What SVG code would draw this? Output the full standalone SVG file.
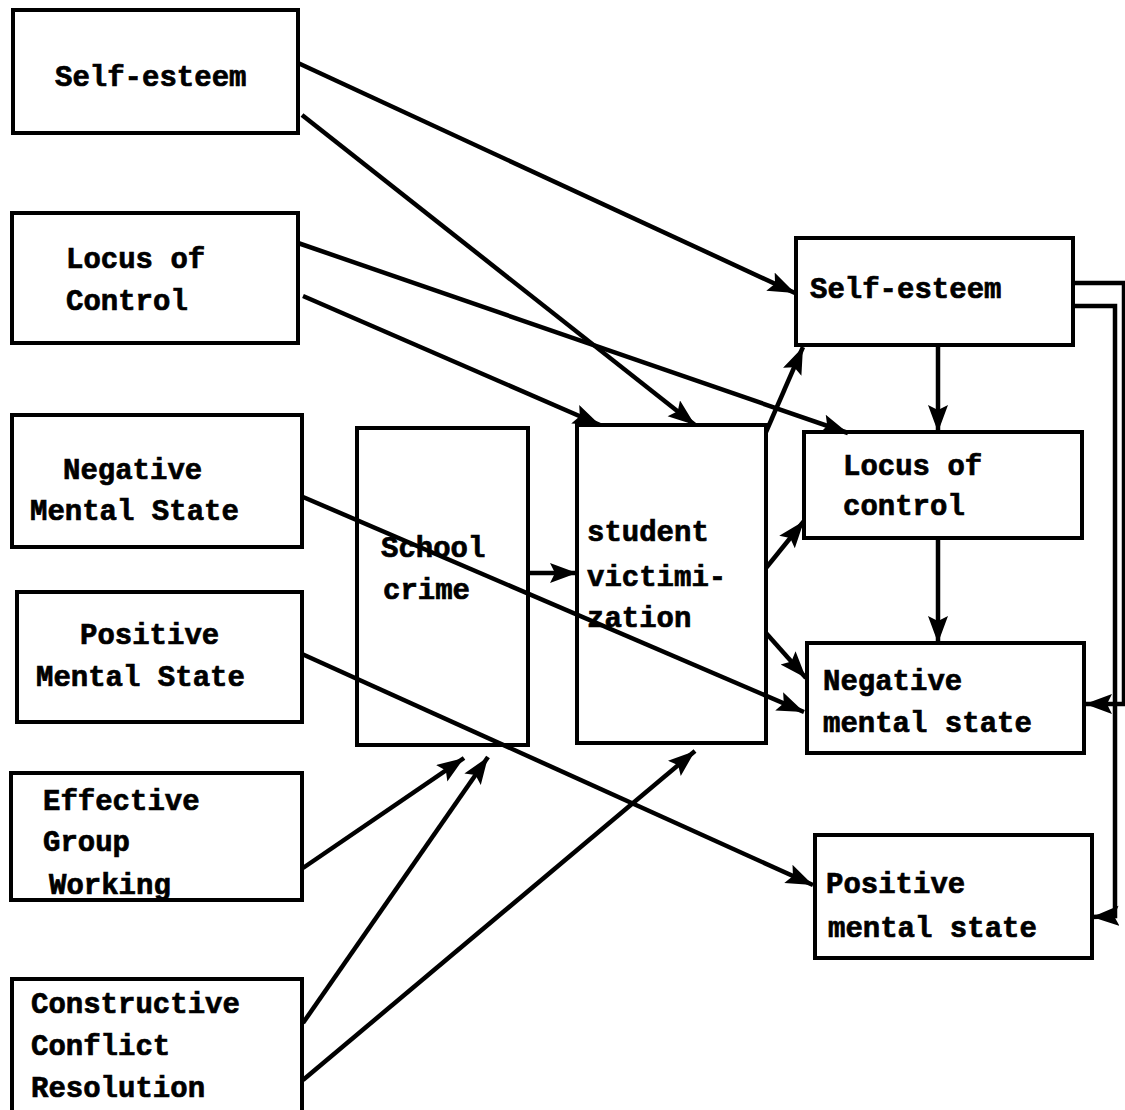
<svg xmlns="http://www.w3.org/2000/svg" width="1125" height="1110" viewBox="0 0 1125 1110">
  <style>
    .box { fill: none; stroke: #000; stroke-width: 4; }
    .lbl { font-family: "Liberation Mono", "DejaVu Sans Mono", monospace; font-weight: bold; font-size: 29px; fill: #000; stroke: #000; stroke-width: 0.7; }
    .conn { fill: none; stroke: #000; stroke-width: 4.5; stroke-linejoin: miter; }
    .arr { marker-end: url(#head); }
  </style>
  <defs>
    <marker id="head" markerUnits="userSpaceOnUse" markerWidth="30" markerHeight="22" refX="27" refY="10" orient="auto">
      <path d="M0,0 L27,10 L0,20 L5,10 Z" fill="#000"/>
    </marker>
  </defs>

  <rect width="1125" height="1110" fill="#fff"/>

  <!-- predictors -->
  <g id="n-self-esteem-in">
    <rect class="box" x="13" y="10" width="285" height="123"/>
    <text class="lbl" x="55" y="86">Self-esteem</text>
  </g>
  <g id="n-locus-in">
    <rect class="box" x="12" y="213" width="286" height="130"/>
    <text class="lbl" x="66" y="268">Locus of</text>
    <text class="lbl" x="66" y="310">Control</text>
  </g>
  <g id="n-negative-in">
    <rect class="box" x="12" y="415" width="290" height="132"/>
    <text class="lbl" x="63" y="479">Negative</text>
    <text class="lbl" x="30" y="520">Mental State</text>
  </g>
  <g id="n-positive-in">
    <rect class="box" x="17" y="592" width="285" height="130"/>
    <text class="lbl" x="80" y="644">Positive</text>
    <text class="lbl" x="36" y="686">Mental State</text>
  </g>
  <g id="n-group">
    <rect class="box" x="11" y="773" width="291" height="127"/>
    <text class="lbl" x="43" y="810">Effective</text>
    <text class="lbl" x="43" y="851">Group</text>
    <text class="lbl" x="49" y="894">Working</text>
  </g>
  <g id="n-conflict">
    <rect class="box" x="12" y="979" width="290" height="140"/>
    <text class="lbl" x="31" y="1013">Constructive</text>
    <text class="lbl" x="31" y="1055">Conflict</text>
    <text class="lbl" x="31" y="1097">Resolution</text>
  </g>

  <!-- mediators -->
  <g id="n-school-crime">
    <rect class="box" x="357" y="428" width="171" height="317"/>
    <text class="lbl" x="381" y="557">School</text>
    <text class="lbl" x="383" y="599">crime</text>
  </g>
  <g id="n-victimization">
    <rect class="box" x="577" y="425" width="189" height="318"/>
    <text class="lbl" x="587" y="541">student</text>
    <text class="lbl" x="587" y="586">victimi-</text>
    <text class="lbl" x="587" y="627">zation</text>
  </g>

  <!-- outcomes -->
  <g id="n-self-esteem-out">
    <rect class="box" x="796" y="238" width="277" height="107"/>
    <text class="lbl" x="810" y="298">Self-esteem</text>
  </g>
  <g id="n-locus-out">
    <rect class="box" x="804" y="432" width="278" height="106"/>
    <text class="lbl" x="843" y="475">Locus of</text>
    <text class="lbl" x="843" y="515">control</text>
  </g>
  <g id="n-negative-out">
    <rect class="box" x="807" y="643" width="277" height="110"/>
    <text class="lbl" x="823" y="690">Negative</text>
    <text class="lbl" x="823" y="732">mental state</text>
  </g>
  <g id="n-positive-out">
    <rect class="box" x="815" y="835" width="277" height="123"/>
    <text class="lbl" x="826" y="893">Positive</text>
    <text class="lbl" x="828" y="937">mental state</text>
  </g>

  <!-- connectors, drawn over the boxes they cross -->
  <g id="connectors">
    <!-- left column inputs -->
    <line class="conn arr" x1="298" y1="63" x2="795" y2="293"/>
    <line class="conn arr" x1="302" y1="115" x2="695" y2="425"/>
    <line class="conn arr" x1="298" y1="243" x2="848" y2="433"/>
    <line class="conn arr" x1="303" y1="296" x2="600" y2="425"/>
    <line class="conn arr" x1="303" y1="497" x2="804" y2="712"/>
    <line class="conn arr" x1="302" y1="654" x2="813" y2="885"/>
    <line class="conn arr" x1="303" y1="868" x2="464" y2="758"/>
    <line class="conn arr" x1="303" y1="1023" x2="488" y2="757"/>
    <line class="conn arr" x1="303" y1="1080" x2="695" y2="751"/>
    <!-- school crime to victimization -->
    <line class="conn arr" x1="528" y1="573" x2="577" y2="573"/>
    <!-- victimization outcomes -->
    <line class="conn arr" x1="766" y1="432" x2="803" y2="347"/>
    <line class="conn arr" x1="766" y1="568" x2="804" y2="521"/>
    <line class="conn arr" x1="766" y1="633" x2="806" y2="678"/>
    <!-- chain on the right -->
    <line class="conn arr" x1="938" y1="345" x2="938" y2="432"/>
    <line class="conn arr" x1="938" y1="538" x2="938" y2="643"/>
    <!-- feedback loops from self-esteem -->
    <polyline class="conn arr" points="1073,283 1124,283 1124,704 1085,704"/>
    <polyline class="conn arr" points="1073,306 1115,306 1115,916 1092,917"/>
  </g>
</svg>
